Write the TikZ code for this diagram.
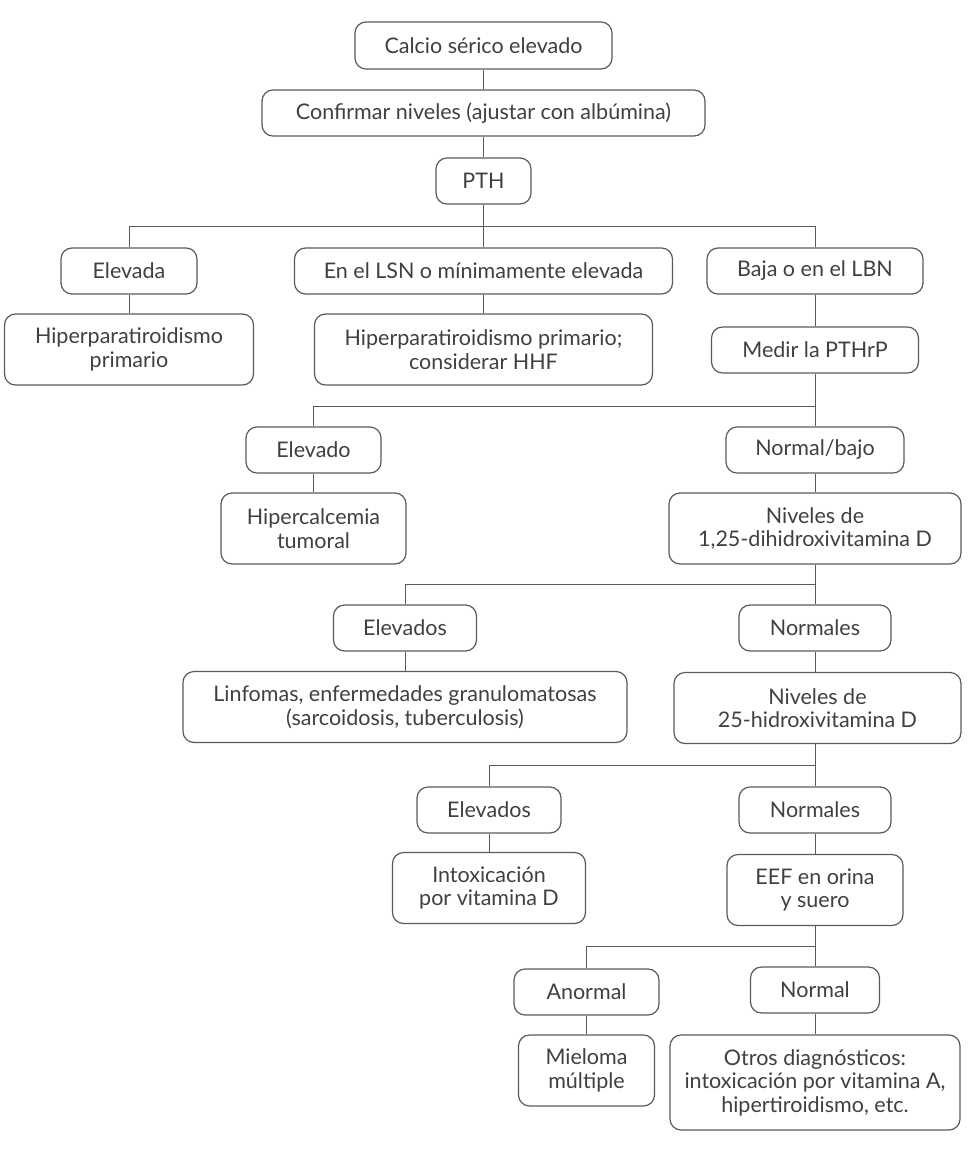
\documentclass[tikz,border=0pt]{standalone}
\usepackage{fontspec}
\setmainfont{Lato}
\definecolor{boxline}{HTML}{5A5A5A}
\definecolor{txt}{HTML}{404040}
\begin{document}
\begin{tikzpicture}[x=1pt,y=-1pt,
  box/.style={draw=boxline, line width=1.2pt, rounded corners=11pt, align=center,
    text=txt, font=\fontsize{21.5}{23.5}\selectfont, inner sep=0pt, anchor=center},
  conn/.style={draw=boxline, line width=0.8pt}]
\useasboundingbox (0,0) rectangle (973,1154);
\newcommand{\bx}[6]{\node[box, minimum width=#4pt, minimum height=#5pt] (#1) at (#2,#3) {#6};}
\bx{calcio}{483.5}{45.5}{257}{47}{Calcio sérico elevado}
\bx{confirmar}{483.5}{113}{443}{46}{Confirmar niveles (ajustar con albúmina)}
\bx{pth}{483.5}{181}{95}{46}{PTH}
\bx{elevada}{129}{271}{136}{46}{Elevada}
\bx{lsn}{483.5}{271}{378}{46}{En el LSN o mínimamente elevada}
\bx{baja}{815}{271}{216}{46}{Baja o en el LBN}
\bx{hpt}{129}{349.5}{249}{71}{Hiperparatiroidismo\\primario}
\bx{hhf}{483.5}{349.5}{338}{71}{Hiperparatiroidismo primario;\\considerar HHF}
\bx{medir}{815}{350}{207}{46}{Medir la PTHrP}
\bx{elevado}{313.5}{450}{135}{46}{Elevado}
\bx{normbajo}{815}{450}{178}{46}{Normal/bajo}
\bx{tumoral}{313.5}{528.5}{185}{71}{Hipercalcemia\\tumoral}
\bx{dihid}{815}{528.5}{292}{71}{Niveles de\\1,25-dihidroxivitamina D}
\bx{elevados1}{405}{628}{143}{46}{Elevados}
\bx{normales1}{815}{628}{152}{46}{Normales}
\bx{linfomas}{405}{707}{444}{71}{Linfomas, enfermedades granulomatosas\\(sarcoidosis, tuberculosis)}
\bx{hidrox}{817.5}{708}{287}{71}{Niveles de\\25-hidroxivitamina D}
\bx{elevados2}{489}{810}{144}{46}{Elevados}
\bx{normales2}{815}{810}{152}{46}{Normales}
\bx{intox}{489}{888}{193}{71}{Intoxicación\\por vitamina D}
\bx{eef}{815}{890}{176}{71}{EEF en orina\\y suero}
\bx{anormal}{586.5}{992}{145}{46}{Anormal}
\bx{normal}{815}{990}{129}{46}{Normal}
\bx{mieloma}{586.5}{1070.5}{136}{71}{Mieloma\\múltiple}
\bx{otros}{815}{1082.5}{290}{95}{Otros diagnósticos:\\intoxicación por vitamina A,\\hipertiroidismo, etc.}
% junctions
\coordinate (j1) at (483.5,226);
\coordinate (j2) at (815,406);
\coordinate (j3) at (815,584);
\coordinate (j4) at (815,765);
\coordinate (j5) at (815,946);
% connectors
\draw[conn] (calcio.south) -- (confirmar.north);
\draw[conn] (confirmar.south) -- (pth.north);
\draw[conn] (pth.south) -- (lsn.north);
\draw[conn] (elevada.north) |- (j1);
\draw[conn] (baja.north) |- (j1);
\draw[conn] (elevada.south) -- (hpt.north);
\draw[conn] (lsn.south) -- (hhf.north);
\draw[conn] (baja.south) -- (medir.north);
\draw[conn] (medir.south) -- (normbajo.north);
\draw[conn] (elevado.north) |- (j2);
\draw[conn] (elevado.south) -- (tumoral.north);
\draw[conn] (normbajo.south) -- (dihid.north);
\draw[conn] (dihid.south) -- (normales1.north);
\draw[conn] (elevados1.north) |- (j3);
\draw[conn] (elevados1.south) -- (linfomas.north);
\draw[conn] (normales1.south) -- (hidrox.north -| normales1.south);
\draw[conn] (hidrox.south -| normales2.north) -- (normales2.north);
\draw[conn] (elevados2.north) |- (j4);
\draw[conn] (elevados2.south) -- (intox.north);
\draw[conn] (normales2.south) -- (eef.north);
\draw[conn] (eef.south) -- (normal.north);
\draw[conn] (anormal.north) |- (j5);
\draw[conn] (anormal.south) -- (mieloma.north);
\draw[conn] (normal.south) -- (otros.north);
\end{tikzpicture}
\end{document}
